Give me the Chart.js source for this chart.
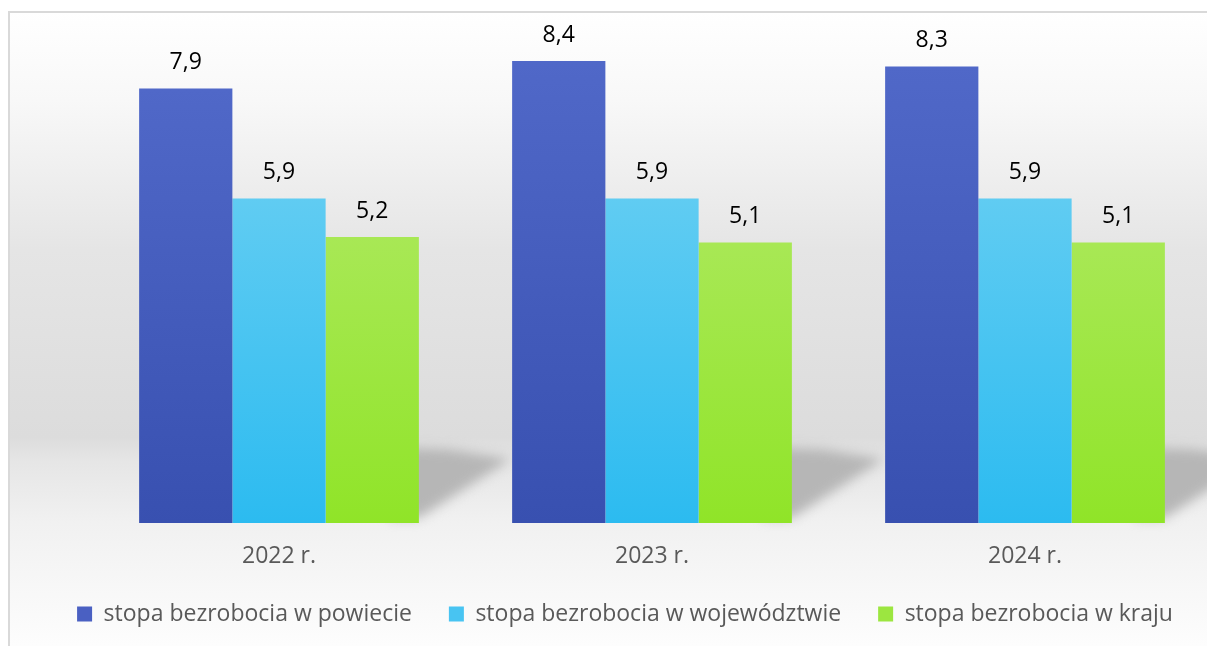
<!DOCTYPE html>
<html>
<head>
<meta charset="utf-8">
<script src="https://cdn.jsdelivr.net/npm/chart.js@4.4.1/dist/chart.umd.min.js"></script>
<style>
  html, body { margin: 0; padding: 0; overflow: hidden; background: #fff; }
  #wrap { position: absolute; left: 0; top: 0; width: 1250px; height: 646px; }
</style>
</head>
<body>
<div id="wrap"><canvas id="chart"></canvas></div>
<script>
const years = ["2022 r.", "2023 r.", "2024 r."];
const powiat = [7.9, 8.4, 8.3];
const wojewodztwo = [5.9, 5.9, 5.9];
const kraj = [5.2, 5.1, 5.1];
const seriesNames = ["stopa bezrobocia w powiecie", "stopa bezrobocia w województwie", "stopa bezrobocia w kraju"];

const palette = [
  { top: "#5068c8", bottom: "#3850b0", mid: "#4a60c2" },
  { top: "#60ccf2", bottom: "#2cbbf0", mid: "#48c4f2" },
  { top: "#a8e855", bottom: "#90e428", mid: "#9ce640" }
];

const fontFamily = "'Open Sans', 'DejaVu Sans', sans-serif";

// vertical gradient per bar, from its top down to the baseline
function barFill(i) {
  return (ctx) => {
    const chart = ctx.chart;
    const y = chart.scales.y;
    if (!chart.chartArea || !y || ctx.raw == null) return palette[i].mid;
    const top = y.getPixelForValue(ctx.raw);
    const base = y.getPixelForValue(0);
    const g = chart.ctx.createLinearGradient(0, top, 0, base);
    g.addColorStop(0, palette[i].top);
    g.addColorStop(1, palette[i].bottom);
    return g;
  };
}

const backdrop = {
  id: "backdrop",
  beforeDraw(chart) {
    const { ctx, width, height } = chart;
    const base = chart.scales.y.getPixelForValue(0);
    const wall = base - 76;
    ctx.save();
    ctx.fillStyle = "#ffffff";
    ctx.fillRect(0, 0, width, height);
    const g = ctx.createLinearGradient(0, 11, 0, height);
    const span = height - 11;
    const at = (py) => Math.min(1, Math.max(0, (py - 11) / span));
    g.addColorStop(0, "#ffffff");
    g.addColorStop(at(100), "#f8f8f8");
    g.addColorStop(at(250), "#e5e5e5");
    g.addColorStop(at(wall - 10), "#dcdcdc");
    g.addColorStop(at(wall + 15), "#e6e6e6");
    g.addColorStop(at(base), "#f1f1f1");
    g.addColorStop(1, "#fdfdfd");
    ctx.fillStyle = g;
    ctx.fillRect(9, 12, width, height);
    ctx.strokeStyle = "#d9d9d9";
    ctx.lineWidth = 2;
    ctx.beginPath();
    ctx.moveTo(9, height + 5);
    ctx.lineTo(9, 12);
    ctx.lineTo(width + 5, 12);
    ctx.stroke();
    ctx.restore();
  },
  beforeDatasetsDraw(chart) {
    const { ctx } = chart;
    const meta = chart.getDatasetMeta(2);
    ctx.save();
    ctx.filter = "blur(6px)";
    ctx.fillStyle = "#b6b6b6";
    meta.data.forEach((el) => {
      const right = el.x + el.width / 2;
      const base = el.base;
      ctx.beginPath();
      ctx.moveTo(right - 30, base - 76);
      ctx.lineTo(right + 30, base - 74);
      ctx.lineTo(right + 92, base - 64);
      ctx.lineTo(right, base - 5);
      ctx.lineTo(right - 30, base - 5);
      ctx.closePath();
      ctx.fill();
    });
    ctx.restore();
  }
};

const valueLabels = {
  id: "valueLabels",
  afterDatasetsDraw(chart) {
    const { ctx } = chart;
    ctx.save();
    ctx.font = "23px " + fontFamily;
    ctx.fillStyle = "#000000";
    ctx.textAlign = "center";
    ctx.textBaseline = "middle";
    chart.data.datasets.forEach((ds, di) => {
      chart.getDatasetMeta(di).data.forEach((el, i) => {
        ctx.fillText(ds.data[i].toFixed(1).replace(".", ","), el.x, el.y - 26);
      });
    });
    ctx.restore();
  }
};

new Chart(document.getElementById("chart"), {
  type: "bar",
  data: {
    labels: years,
    datasets: [powiat, wojewodztwo, kraj].map((d, i) => ({
      label: seriesNames[i],
      data: d,
      backgroundColor: barFill(i),
      borderWidth: 0,
      categoryPercentage: 0.75,
      barPercentage: 1.0
    }))
  },
  options: {
    responsive: true,
    maintainAspectRatio: false,
    animation: false,
    layout: { padding: { top: 28, bottom: 10.5, left: 0, right: 0 } },
    scales: {
      x: {
        grid: { display: false, drawTicks: false },
        border: { display: false },
        ticks: { color: "#595959", padding: 22, font: { family: fontFamily, size: 23, lineHeight: 1 } },
        afterFit: (s) => { s.height = 42.5; }
      },
      y: {
        min: 0,
        max: 9,
        position: "left",
        grid: { display: false, drawTicks: false },
        border: { display: false },
        ticks: { display: false },
        afterFit: (s) => { s.width = 92.5; }
      },
      yRight: {
        position: "right",
        grid: { display: false, drawTicks: false },
        border: { display: false },
        ticks: { display: false },
        afterFit: (s) => { s.width = 38.5; }
      }
    },
    plugins: {
      tooltip: { enabled: false },
      legend: {
        position: "bottom",
        labels: {
          boxWidth: 15,
          boxHeight: 15,
          padding: 37,
          color: "#595959",
          font: { family: fontFamily, size: 23 },
          generateLabels: (chart) => chart.data.datasets.map((ds, i) => ({
            text: ds.label,
            fillStyle: palette[i].mid,
            strokeStyle: "rgba(0,0,0,0)",
            lineWidth: 0,
            fontColor: "#595959",
            hidden: false,
            datasetIndex: i
          }))
        }
      }
    }
  },
  plugins: [backdrop, valueLabels]
});
</script>
</body>
</html>
